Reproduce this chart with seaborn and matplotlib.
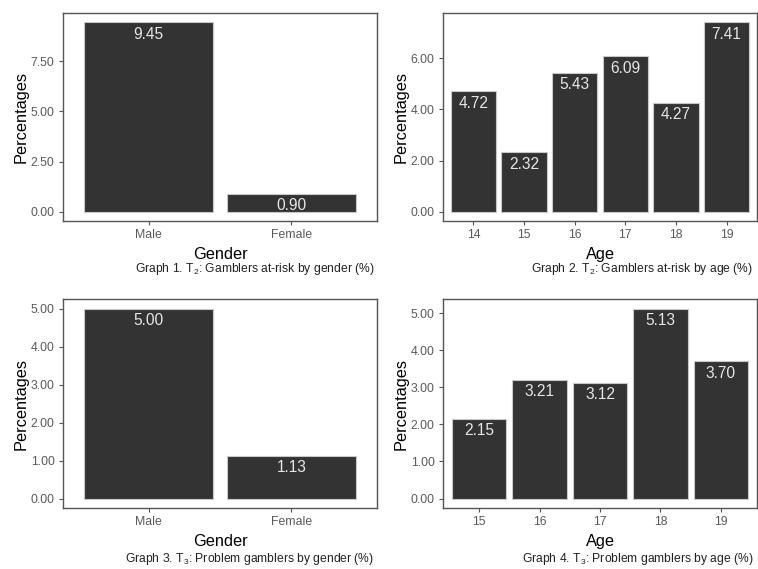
import matplotlib
matplotlib.use("Agg")
import matplotlib.pyplot as plt
import seaborn as sns
import pandas as pd

sns.set_theme(style="white")
plt.rcParams['font.family'] = ['Liberation Sans', 'DejaVu Sans']
plt.rcParams['mathtext.default'] = 'regular'

gender_labels = ["Male", "Female"]
age_labels_t2 = ["14", "15", "16", "17", "18", "19"]
age_labels_t3 = ["15", "16", "17", "18", "19"]

t2_gender = [9.45, 0.90]
t2_age = [4.72, 2.32, 5.43, 6.09, 4.27, 7.41]
t3_gender = [5.00, 1.13]
t3_age = [2.15, 3.21, 3.12, 5.13, 3.70]

yticks_1 = [0, 2.5, 5.0, 7.5]
yticks_2 = [0, 2, 4, 6]
yticks_3 = [0, 1, 2, 3, 4, 5]
yticks_4 = [0, 1, 2, 3, 4, 5]

captions = [
    "Graph 1. T$_2$: Gamblers at-risk by gender (%)",
    "Graph 2. T$_2$: Gamblers at-risk by age (%)",
    "Graph 3. T$_3$: Problem gamblers by gender (%)",
    "Graph 4. T$_3$: Problem gamblers by age (%)",
]

W, H = 758, 569
fig = plt.figure(figsize=(W / 100, H / 100), dpi=100)
fig.patch.set_facecolor("white")

def axes_px(l, t, r, b):
    return fig.add_axes([l / W, 1 - b / H, (r - l) / W, (b - t) / H])

panels = [
    (axes_px(63, 13, 377, 221), gender_labels, t2_gender, yticks_1, "Gender", (375, 269)),
    (axes_px(443, 13, 757, 221), age_labels_t2, t2_age, yticks_2, "Age", (753, 269)),
    (axes_px(63, 299, 377, 508), gender_labels, t3_gender, yticks_3, "Gender", (374, 559)),
    (axes_px(443, 299, 757, 508), age_labels_t3, t3_age, yticks_4, "Age", (754, 559)),
]

for (ax, cats, vals, yt, xlab, cap_pos), cap in zip(panels, captions):
    df = pd.DataFrame({"cat": cats, "val": vals})
    sns.barplot(data=df, x="cat", y="val", order=cats, color="#333333",
                width=0.9, saturation=1, edgecolor="#C8C8C8", linewidth=0.8, ax=ax)
    n = len(cats)
    ax.set_xlim(-0.6, n - 1 + 0.6)
    vmax = max(vals)
    ax.set_ylim(-0.05 * vmax, vmax * 1.05)
    ax.set_yticks(yt)
    ax.set_yticklabels([f"{v:.2f}" for v in yt])
    for i, v in enumerate(vals):
        ax.annotate(f"{v:.2f}", xy=(i, v), xytext=(0, -12), textcoords="offset pixels",
                    ha="center", va="center", color="#E6E6E6", fontsize=11.2)
    for s in ax.spines.values():
        s.set_visible(True)
        s.set_color("#555555")
        s.set_linewidth(1.0)
    ax.tick_params(axis="both", which="major", length=3, width=0.8, color="#555555",
                   labelsize=8.8, labelcolor="#5A5A5A", direction="out",
                   bottom=True, left=True, pad=3)
    ax.set_xlabel(xlab, fontsize=11.8, color="black")
    ax.set_ylabel("Percentages", fontsize=11.8, color="black")
    ax.xaxis.label.set_va("center")
    ax.yaxis.label.set_va("center")
    ax.xaxis.set_label_coords(0.5, -0.16)
    ax.yaxis.set_label_coords(-0.134, 0.5)
    ax.set_facecolor("white")
    fig.text(cap_pos[0] / W, 1 - cap_pos[1] / H, cap, ha="right", va="center",
             fontsize=8.7, color="#222222")

fig.savefig("out.png", dpi=100, facecolor="white")
